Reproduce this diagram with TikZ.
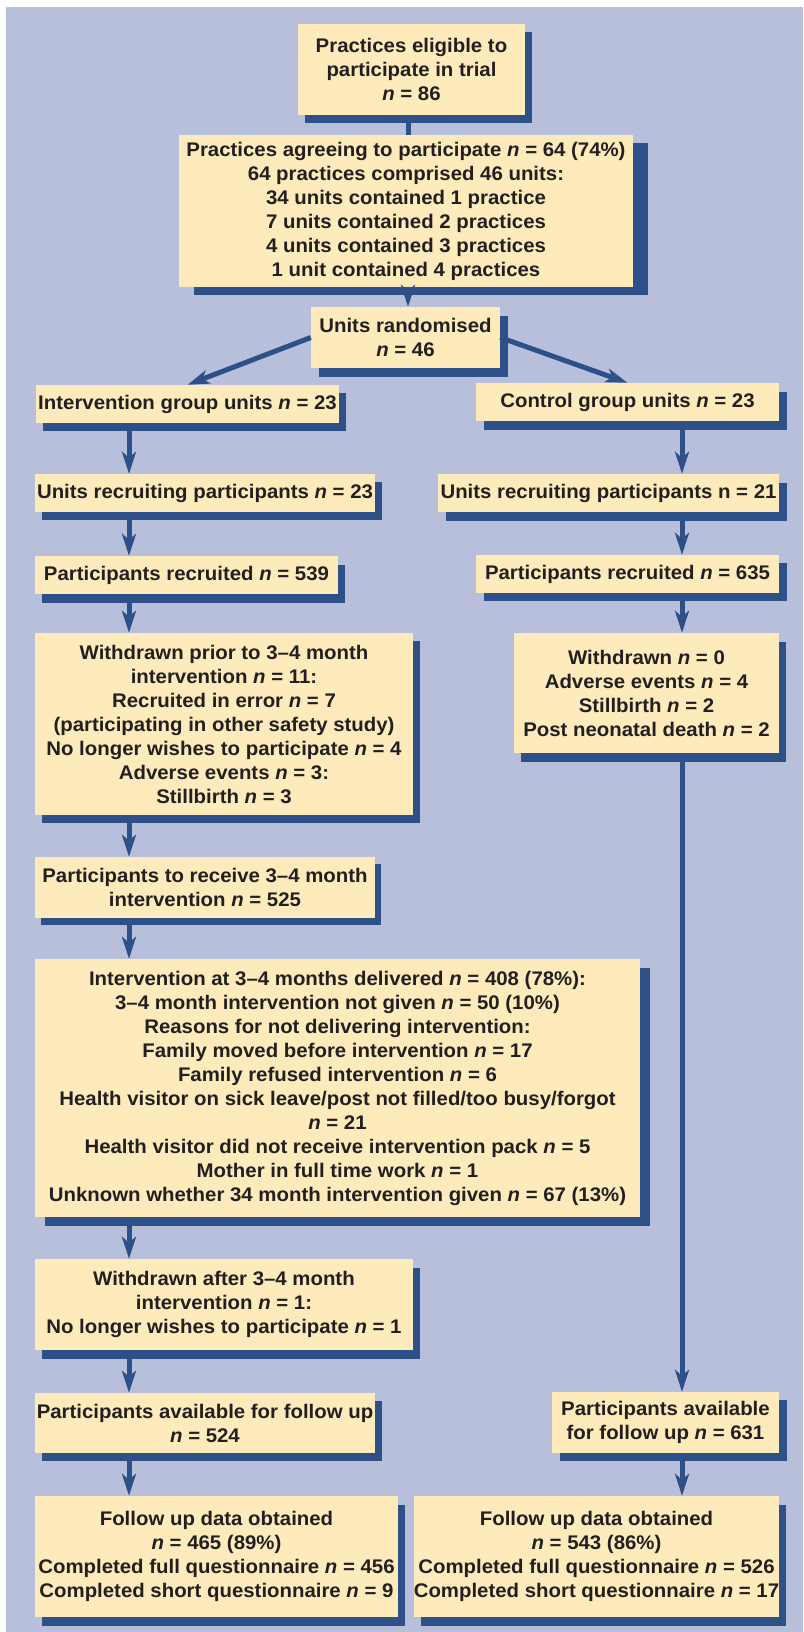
\documentclass[tikz,border=0pt]{standalone}
\usepackage{fontspec}
\setmainfont{Liberation Sans}[FakeStretch=1.035]
\usetikzlibrary{arrows.meta,shadows}
\definecolor{bgblue}{HTML}{B7BFDA}
\definecolor{boxfill}{HTML}{FDEBBC}
\definecolor{dkblue}{HTML}{2D5088}
\definecolor{txtcol}{HTML}{231F20}
\newcommand{\nn}{\textit{n}}
\tikzset{
  box/.style={fill=boxfill, inner sep=0pt, align=center, text=txtcol,
    font=\fontsize{19.7}{24}\selectfont\bfseries},
  shad/.style 2 args={general shadow={fill=dkblue, shadow xshift=#1pt, shadow yshift=-#2pt}},
  arr/.style={draw=dkblue, line width=5pt, -{Stealth[length=22pt,width=14pt,inset=6pt]}},
  plainline/.style={draw=dkblue, line width=5pt},
}
\begin{document}
\begin{tikzpicture}[x=1pt,y=-1pt]
\useasboundingbox (0,0) rectangle (803,1632);
\fill[bgblue] (6,7) rectangle (803,1632);
\coordinate (xl) at (129,0);
\coordinate (xr) at (682,0);
\coordinate (xm) at (408,0);

\node[box, shad={7}{8}, minimum width=227pt, minimum height=91pt] (b1) at (411.5,69.5)
  {Practices eligible to\\participate in trial\\\nn{} = 86};
\node[box, shad={15}{8}, minimum width=454pt, minimum height=152pt] (b2) at (406,211)
  {Practices agreeing to participate \nn{} = 64 (74\%)\\64 practices comprised 46 units:\\34 units contained 1 practice\\7 units contained 2 practices\\4 units contained 3 practices\\1 unit contained 4 practices};
\node[box, shad={8}{9}, minimum width=189pt, minimum height=61pt] (b3) at (405.5,337.5)
  {Units randomised\\\nn{} = 46};

\node[box, shad={7}{8}, minimum width=303pt, minimum height=38pt] (ig) at (187.5,404)
  {Intervention group units \nn{} = 23};
\node[box, shad={8}{9}, minimum width=303pt, minimum height=38pt] (cg) at (627.5,402)
  {Control group units \nn{} = 23};

\node[box, shad={7}{8}, minimum width=340pt, minimum height=38pt] (url) at (205,493)
  {Units recruiting participants \nn{} = 23};
\node[box, shad={8}{9}, minimum width=341pt, minimum height=38pt] (urr) at (608.5,493)
  {Units recruiting participants n = 21};

\node[box, shad={7}{9}, minimum width=303pt, minimum height=38pt] (prl) at (186.5,575)
  {Participants recruited \nn{} = 539};
\node[box, shad={8}{8}, minimum width=303pt, minimum height=38pt] (prr) at (627.5,574)
  {Participants recruited \nn{} = 635};

\node[box, shad={7}{8}, minimum width=378pt, minimum height=182pt] (wdl) at (224,724)
  {Withdrawn prior to 3–4 month\\intervention \nn{} = 11:\\Recruited in error \nn{} = 7\\(participating in other safety study)\\No longer wishes to participate \nn{} = 4\\Adverse events \nn{} = 3:\\Stillbirth \nn{} = 3};
\node[box, shad={7}{9}, minimum width=265pt, minimum height=120pt] (wdr) at (646.5,693)
  {Withdrawn \nn{} = 0\\Adverse events \nn{} = 4\\Stillbirth \nn{} = 2\\Post neonatal death \nn{} = 2};

\node[box, shad={6}{7}, minimum width=340pt, minimum height=61pt] (ptr) at (205,887.5)
  {Participants to receive 3–4 month\\intervention \nn{} = 525};

\node[box, shad={10}{9}, minimum width=605pt, minimum height=258pt] (int) at (337.5,1088)
  {Intervention at 3–4 months delivered \nn{} = 408 (78\%):\\3–4 month intervention not given \nn{} = 50 (10\%)\\Reasons for not delivering intervention:\\Family moved before intervention \nn{} = 17\\Family refused intervention \nn{} = 6\\Health visitor on sick leave/post not filled/too busy/forgot\\\nn{} = 21\\Health visitor did not receive intervention pack \nn{} = 5\\Mother in full time work \nn{} = 1\\Unknown whether 34 month intervention given \nn{} = 67 (13\%)};

\node[box, shad={7}{9}, minimum width=378pt, minimum height=91pt] (wa) at (224,1304.5)
  {Withdrawn after 3–4 month\\intervention \nn{} = 1:\\No longer wishes to participate \nn{} = 1};

\node[box, shad={7}{8}, minimum width=340pt, minimum height=60pt] (pal) at (205,1423)
  {Participants available for follow up\\\nn{} = 524};
\node[box, shad={8}{8}, minimum width=227pt, minimum height=61pt] (par) at (665.5,1422.5)
  {Participants available\\for follow up \nn{} = 631};

\node[box, shad={7}{9}, minimum width=363pt, minimum height=121pt] (ful) at (216.5,1556.5)
  {Follow up data obtained\\\nn{} = 465 (89\%)\\Completed full questionnaire \nn{} = 456\\Completed short questionnaire \nn{} = 9};
\node[box, shad={7}{9}, minimum width=363pt, minimum height=121pt] (fur) at (596.5,1556.5)
  {Follow up data obtained\\\nn{} = 543 (86\%)\\Completed full questionnaire \nn{} = 526\\Completed short questionnaire \nn{} = 17};

% connectors
\draw[plainline] (b1.south -| xm) -- (b2.north -| xm);
\draw[arr] (b2.south -| xm) -- (b3.north -| xm);
\draw[arr] (b3.west) -- (ig.north);
\draw[arr] (b3.east) -- (cg.north);

\draw[arr] (ig.south -| xl) -- (url.north -| xl);
\draw[arr] (url.south -| xl) -- (prl.north -| xl);
\draw[arr] (prl.south -| xl) -- (wdl.north -| xl);
\draw[arr] (wdl.south -| xl) -- (ptr.north -| xl);
\draw[arr] (ptr.south -| xl) -- (int.north -| xl);
\draw[arr] (int.south -| xl) -- (wa.north -| xl);
\draw[arr] (wa.south -| xl) -- (pal.north -| xl);
\draw[arr] (pal.south -| xl) -- (ful.north -| xl);

\draw[arr] (cg.south -| xr) -- (urr.north -| xr);
\draw[arr] (urr.south -| xr) -- (prr.north -| xr);
\draw[arr] (prr.south -| xr) -- (wdr.north -| xr);
\draw[arr] (wdr.south -| xr) -- (par.north -| xr);
\draw[arr] (par.south -| xr) -- (fur.north -| xr);
\end{tikzpicture}
\end{document}
